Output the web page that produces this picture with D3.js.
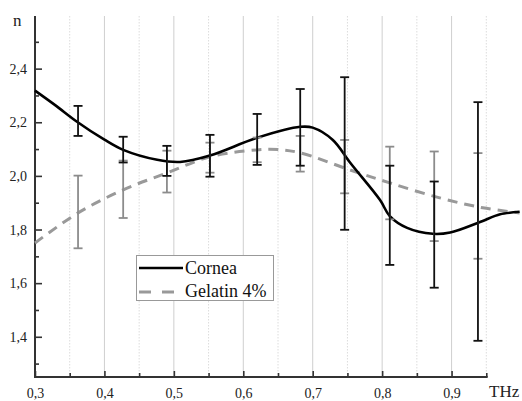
<!DOCTYPE html>
<html>
<head>
<meta charset="utf-8">
<script src="https://cdn.jsdelivr.net/npm/d3@7"></script>
<style>
  body { margin: 0; background: #fff; }
  svg, svg text { font-family: "Liberation Serif", "DejaVu Serif", "Times New Roman", serif; }
  svg { display: block; }
</style>
</head>
<body>
<div id="chart"></div>
<script>
// fitted curves (frequency THz, refractive index n)
const corneaFitX = [0.300, 0.330, 0.360, 0.400, 0.427, 0.476, 0.509, 0.552, 0.620, 0.682, 0.700, 0.729, 0.754, 0.797, 0.811, 0.836, 0.873, 0.898, 0.941, 0.970, 0.998];
const corneaFitN = [2.318, 2.262, 2.203, 2.135, 2.097, 2.060, 2.052, 2.076, 2.142, 2.183, 2.180, 2.134, 2.049, 1.910, 1.850, 1.806, 1.784, 1.789, 1.828, 1.857, 1.866];
const gelatinFitX = [0.300, 0.362, 0.427, 0.490, 0.552, 0.620, 0.650, 0.682, 0.754, 0.811, 0.883, 0.945, 0.998];
const gelatinFitN = [1.750, 1.862, 1.948, 2.011, 2.071, 2.097, 2.098, 2.086, 2.022, 1.974, 1.918, 1.881, 1.862];

// measured points with error bars
const freqs = [0.362, 0.427, 0.490, 0.552, 0.620, 0.682, 0.746, 0.811, 0.875, 0.938];
const corneaLo = [2.149, 2.050, 2.000, 1.997, 2.041, 2.038, 1.799, 1.668, 1.583, 1.385];
const corneaHi = [2.261, 2.146, 2.112, 2.153, 2.231, 2.324, 2.368, 2.038, 1.979, 2.275];
const gelatinLo = [1.730, 1.843, 1.938, 2.012, 2.051, 2.016, 1.935, 1.838, 1.757, 1.691];
const gelatinHi = [2.001, 2.057, 2.094, 2.124, 2.143, 2.149, 2.134, 2.109, 2.091, 2.085];

const xMajor = [0.3, 0.4, 0.5, 0.6, 0.7, 0.8, 0.9];
const xMinor = [0.35, 0.45, 0.55, 0.65, 0.75, 0.85, 0.95];
const yMajor = [1.4, 1.6, 1.8, 2.0, 2.2, 2.4];
const yMinor = [1.3, 1.5, 1.7, 1.9, 2.1, 2.3, 2.5];

const seriesNames = ["Cornea", "Gelatin 4%"];

const width = 522, height = 401;
const plotLeft = 35, plotRight = 521, plotTop = 15, plotBottom = 377;
const serif = "'Liberation Serif', 'DejaVu Serif', 'Times New Roman', serif";

const svg = d3.select("#chart").append("svg")
    .attr("width", width)
    .attr("height", height);

const x = d3.scaleLinear().domain([0.3, 1.0]).range([plotLeft, plotRight]);
const y = d3.scaleLinear().domain([1.25, 2.6]).range([plotBottom, plotTop]);
const comma = d => d3.format(".1f")(d).replace(".", ",");

// vertical grid
svg.append("g")
    .selectAll("line")
    .data(xMajor.slice(1).concat(xMinor))
    .enter()
    .append("line")
        .attr("x1", d => x(d)).attr("x2", d => x(d))
        .attr("y1", plotTop + 1).attr("y2", plotBottom)
        .attr("stroke", d => xMajor.includes(d) ? "#cfcfcf" : "#dcdcdc")
        .attr("stroke-width", 1)
        .attr("stroke-dasharray", d => xMajor.includes(d) ? null : "1.5,1.5");

// axes
svg.append("g")
    .attr("transform", `translate(0,${plotBottom})`)
    .call(d3.axisBottom(x).tickValues(xMajor).tickFormat(comma).tickSize(-6).tickPadding(11));
svg.append("g")
    .attr("transform", `translate(0,${plotBottom})`)
    .call(d3.axisBottom(x).tickValues(xMinor).tickFormat("").tickSize(-4));
svg.append("g")
    .attr("transform", `translate(${plotLeft},0)`)
    .call(d3.axisLeft(y).tickValues(yMajor).tickFormat(comma).tickSize(-7).tickPadding(8));
svg.append("g")
    .attr("transform", `translate(${plotLeft},0)`)
    .call(d3.axisLeft(y).tickValues(yMinor).tickFormat("").tickSize(-4));

svg.selectAll(".domain").remove();
svg.selectAll("g").attr("font-family", serif);
svg.selectAll(".tick line").attr("stroke", "#333").attr("stroke-width", 1.6);
svg.selectAll(".tick text")
    .attr("fill", "#222")
    .attr("font-size", 14)
    .style("font-family", serif);

// axis lines
svg.append("line")
    .attr("x1", plotLeft).attr("x2", x(0.952))
    .attr("y1", plotBottom).attr("y2", plotBottom)
    .attr("stroke", "#333").attr("stroke-width", 2);
svg.append("line")
    .attr("x1", plotLeft).attr("x2", plotLeft)
    .attr("y1", plotTop + 1).attr("y2", plotBottom + 1)
    .attr("stroke", "#333").attr("stroke-width", 2);

svg.append("text")
    .attr("x", 13).attr("y", 26)
    .attr("fill", "#222")
    .style("font-family", serif)
    .style("font-size", "17px")
    .text("n");
svg.append("text")
    .attr("x", 489).attr("y", 397)
    .attr("fill", "#222")
    .style("font-family", serif)
    .style("font-size", "17px")
    .text("THz");

// curves
const line = d3.line()
    .x(d => x(d[0]))
    .y(d => y(d[1]))
    .curve(d3.curveCatmullRom.alpha(0.5));

svg.append("path")
    .datum(gelatinFitX.map((f, i) => [f, gelatinFitN[i]]))
    .attr("d", line)
    .attr("fill", "none")
    .attr("stroke", "#999")
    .attr("stroke-width", 3)
    .attr("stroke-dasharray", "10,7");

svg.append("path")
    .datum(corneaFitX.map((f, i) => [f, corneaFitN[i]]))
    .attr("d", line)
    .attr("fill", "none")
    .attr("stroke", "#000")
    .attr("stroke-width", 2.6);

// error bars
function add_error_bars(lo, hi, color) {
    const g = svg.append("g")
        .attr("stroke", color)
        .attr("stroke-width", 1.8);
    const bars = g.selectAll("g")
        .data(freqs.map((f, i) => ({ f: f, lo: lo[i], hi: hi[i] })))
        .enter()
        .append("g");
    bars.append("line")
        .attr("x1", d => x(d.f)).attr("x2", d => x(d.f))
        .attr("y1", d => y(d.hi)).attr("y2", d => y(d.lo));
    bars.append("line") // top cap
        .attr("x1", d => x(d.f) - 4.5).attr("x2", d => x(d.f) + 4.5)
        .attr("y1", d => y(d.hi)).attr("y2", d => y(d.hi));
    bars.append("line") // bottom cap
        .attr("x1", d => x(d.f) - 4.5).attr("x2", d => x(d.f) + 4.5)
        .attr("y1", d => y(d.lo)).attr("y2", d => y(d.lo));
}
add_error_bars(gelatinLo, gelatinHi, "#8c8c8c");
add_error_bars(corneaLo, corneaHi, "#111");

// legend
const legend = svg.append("g").attr("transform", "translate(136,255)");
legend.append("rect")
    .attr("x", 0.5).attr("y", 0.5)
    .attr("width", 137).attr("height", 45)
    .attr("fill", "#fff")
    .attr("stroke", "#999")
    .attr("stroke-width", 1);
legend.selectAll("line")
    .data(seriesNames)
    .enter()
    .append("line")
        .attr("x1", 3).attr("x2", 47)
        .attr("y1", (d, i) => 13 + i * 24).attr("y2", (d, i) => 13 + i * 24)
        .attr("stroke", (d, i) => i === 0 ? "#000" : "#999")
        .attr("stroke-width", (d, i) => i === 0 ? 2.6 : 3)
        .attr("stroke-dasharray", (d, i) => i === 0 ? null : "12,11");
legend.selectAll("text")
    .data(seriesNames)
    .enter()
    .append("text")
        .attr("x", 49)
        .attr("y", (d, i) => 19 + i * 23)
        .attr("fill", "#111")
        .style("font-family", serif)
        .style("font-size", "18px")
        .text(d => d);
</script>
</body>
</html>
